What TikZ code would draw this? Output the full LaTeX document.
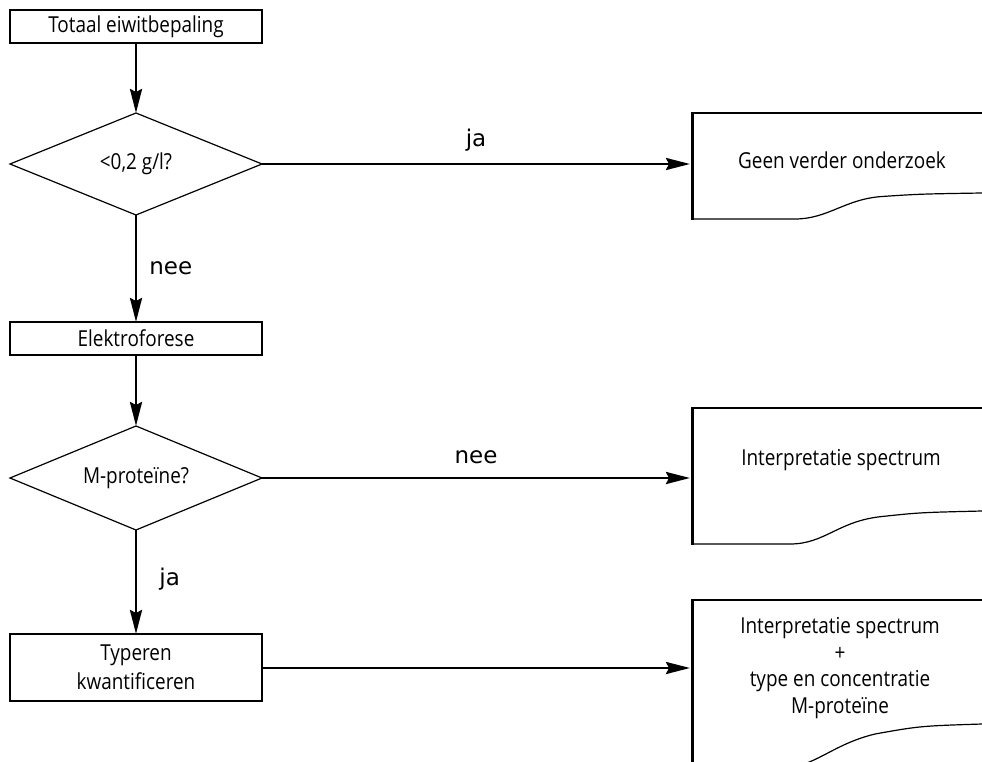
\documentclass[tikz,border=0pt]{standalone}
\usepackage{fontspec}
\setmainfont{Open Sans}
\newfontfamily\boxfont[FakeStretch=0.86]{Open Sans}
\newfontfamily\labelfont{DejaVu Sans}
\usetikzlibrary{shapes.geometric,arrows.meta}
\begin{document}
\begin{tikzpicture}[x=1pt,y=-1pt,
  box/.style={draw, line width=1.2pt, rectangle, minimum width=252pt,
    inner sep=0pt, outer sep=0pt, font=\boxfont\fontsize{22}{29}\selectfont, align=center},
  choice/.style={draw, line width=1.2pt, diamond, minimum width=252pt,
    inner sep=0pt, outer sep=0pt},
  boxtext/.style={inner sep=0pt, font=\boxfont\fontsize{22}{29}\selectfont},
  doctext/.style={inner sep=0pt, font=\boxfont\fontsize{22}{26.5}\selectfont, align=center},
  flow/.style={line width=2.8pt, -{Stealth[length=24pt, width=12pt, inset=3pt]}},
  lbl/.style={font=\labelfont\fontsize{23}{26}\selectfont, inner sep=0pt},
  docedge/.style={line width=3pt},
  docline/.style={line width=1.2pt}
]
\clip (0,0) rectangle (982,762);
\fill[white] (0,0) rectangle (982,762);

% left column: steps and decisions
\node[box, minimum height=33pt] (b1) at (136,26.5) {Totaal eiwitbepaling};
\node[choice, minimum height=102pt] (q1) at (136,164) {};
\node[boxtext] (q1t) at (q1.center) {<0,2 g/l?};
\node[box, minimum height=33pt] (b2) at (136,338.5) {Elektroforese};
\node[choice, minimum height=104pt] (q2) at (136,478) {};
\node[boxtext] (q2t) at (q2.center) {M-proteïne?};
\node[box, minimum height=67pt] (b3) at (136,667.5) {Typeren\\kwantificeren};

% right column: report documents
\coordinate (d1) at (690,164);
\coordinate (d2) at (690,478);
\coordinate (d3) at (690,668);

\draw[docline] (982,113) -- (692.5,113);
\draw[docline] (692.5,219) -- (795,219) .. controls (828,219) and (845,199) .. (882,196.5)
  .. controls (920,194) .. (982,193);
\draw[docedge] (692.5,112.4) -- (692.5,219.6);
\node[doctext] (t1) at (842,160) {Geen verder onderzoek};

\draw[docline] (982,408) -- (692.5,408);
\draw[docline] (692.5,544) -- (790,544) .. controls (825,544) and (838,521) .. (882,516.5)
  .. controls (920,512.5) .. (982,511);
\draw[docedge] (692.5,407.4) -- (692.5,544.6);
\node[doctext] (t2) at (841,460) {Interpretatie spectrum};

\draw[docline] (982,600) -- (692.5,600);
\draw[docline] (692.5,768) -- (780,768) .. controls (815,768) and (830,745) .. (875,734)
  .. controls (920,726) .. (982,724);
\draw[docedge] (692.5,599.4) -- (692.5,770);
\node[doctext] (t3) at (840,668) {Interpretatie spectrum\\+\\type en concentratie\\M-proteïne};

% connectors
\draw[flow] (b1.south) -- (q1.north);
\draw[flow] (q1.east) -- (d1) node[lbl, midway, above=11pt] {ja};
\draw[flow] (q1.south) -- (b2.north) node[lbl, midway, right=12pt] {nee};
\draw[flow] (b2.south) -- (q2.north);
\draw[flow] (q2.east) -- (d2) node[lbl, midway, above=13pt] {nee};
\draw[flow] (q2.south) -- (b3.north) node[lbl, midway, right=22pt, yshift=3pt] {ja};
\draw[flow] (b3.east |- d3) -- (d3);
\end{tikzpicture}
\end{document}
